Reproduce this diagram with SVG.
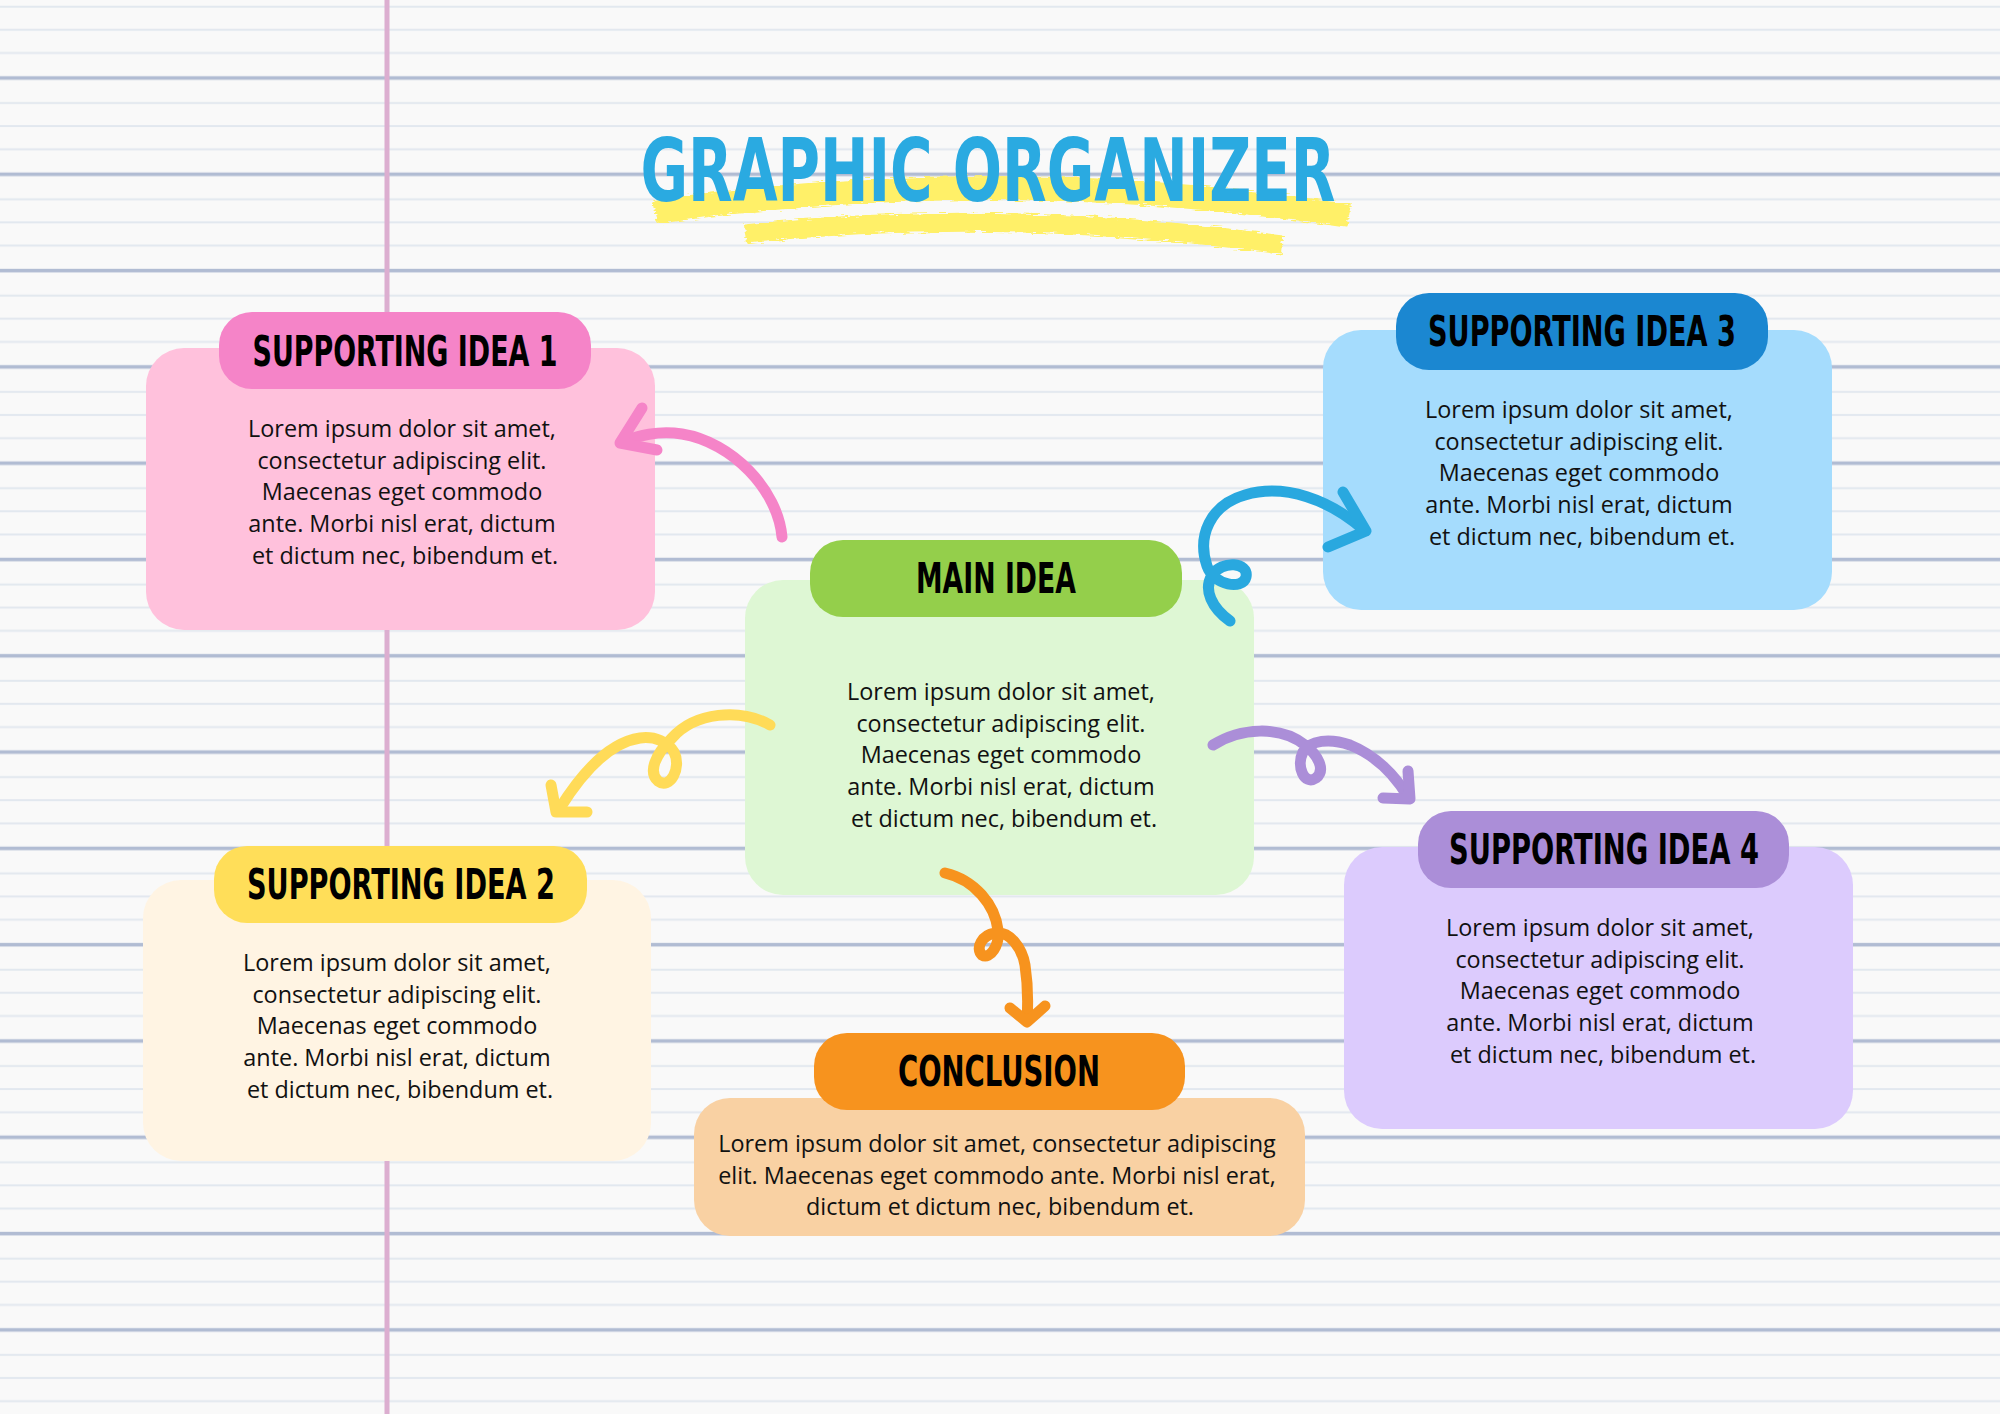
<svg xmlns="http://www.w3.org/2000/svg" width="2000" height="1414" viewBox="0 0 2000 1414">
  <defs>
    <!-- ruled notebook paper: one thick rule every fourth line -->
    <pattern id="ruled" patternUnits="userSpaceOnUse" x="0" y="17.8" width="2000" height="96.3">
      <rect x="0" y="11" width="2000" height="2" fill="#e2e8ef"/>
      <rect x="0" y="34.2" width="2000" height="2" fill="#e2e8ef"/>
      <rect x="0" y="58.4" width="2000" height="3.6" fill="#b1bcd3"/>
      <rect x="0" y="84.2" width="2000" height="2" fill="#e2e8ef"/>
    </pattern>
    <filter id="brush" x="-5%" y="-50%" width="110%" height="200%">
      <feTurbulence type="fractalNoise" baseFrequency="0.08 0.6" numOctaves="2" seed="4" result="n"/>
      <feDisplacementMap in="SourceGraphic" in2="n" scale="7" xChannelSelector="R" yChannelSelector="G"/>
    </filter>
    <style>
      .head { font-family: "Liberation Sans Narrow", "DejaVu Sans Condensed", "Liberation Sans", sans-serif; font-weight: 700; font-size: 42px; fill: #000; text-anchor: middle; }
      .body { font-family: "Open Sans", "Noto Sans", "Liberation Sans", sans-serif; font-size: 23.4px; fill: #111; text-anchor: middle; }
      .arrow { fill: none; stroke-width: 11; stroke-linecap: round; stroke-linejoin: round; }
    </style>
  </defs>

  <!-- paper -->
  <rect width="2000" height="1414" fill="#f9f9f9"/>
  <rect width="2000" height="1414" fill="url(#ruled)"/>
  <rect x="384.5" y="0" width="5" height="1414" fill="#dcaed0"/>

  <!-- title with yellow highlighter strokes -->
  <g id="title">
    <g filter="url(#brush)" fill="none" stroke="#fff067" stroke-linecap="butt">
      <path d="M 655 212 Q 1000 162 1349 216" stroke-width="24"/>
      <path d="M 745 234 Q 1000 206 1282 245" stroke-width="19"/>
    </g>
    <text x="988" y="201" font-family="'Liberation Sans Narrow','DejaVu Sans Condensed','Liberation Sans',sans-serif" font-weight="700" font-size="88" fill="#2aaae1" text-anchor="middle" textLength="695" lengthAdjust="spacingAndGlyphs">GRAPHIC ORGANIZER</text>
  </g>

  <!-- supporting idea 1 -->
  <g id="supporting-idea-1">
    <rect x="146" y="348" width="509" height="282" rx="38" fill="#ffc1dc"/>
    <rect x="219" y="312" width="372" height="77" rx="33" fill="#f584c8"/>
    <text class="head" x="405" y="366" textLength="305" lengthAdjust="spacingAndGlyphs">SUPPORTING IDEA 1</text>
    <text class="body" x="405" y="437">
      <tspan x="405" dy="0">Lorem ipsum dolor sit amet,</tspan>
      <tspan x="405" dy="31.7">consectetur adipiscing elit.</tspan>
      <tspan x="405" dy="31.7">Maecenas eget commodo</tspan>
      <tspan x="405" dy="31.7">ante. Morbi nisl erat, dictum</tspan>
      <tspan x="405" dy="31.7">et dictum nec, bibendum et.</tspan>
    </text>
  </g>

  <!-- supporting idea 3 -->
  <g id="supporting-idea-3">
    <rect x="1323" y="330" width="509" height="280" rx="38" fill="#a5dcfd"/>
    <rect x="1396" y="293" width="372" height="77" rx="33" fill="#1b87d1"/>
    <text class="head" x="1582" y="346" textLength="308" lengthAdjust="spacingAndGlyphs">SUPPORTING IDEA 3</text>
    <text class="body" x="1582" y="418">
      <tspan x="1582" dy="0">Lorem ipsum dolor sit amet,</tspan>
      <tspan x="1582" dy="31.7">consectetur adipiscing elit.</tspan>
      <tspan x="1582" dy="31.7">Maecenas eget commodo</tspan>
      <tspan x="1582" dy="31.7">ante. Morbi nisl erat, dictum</tspan>
      <tspan x="1582" dy="31.7">et dictum nec, bibendum et.</tspan>
    </text>
  </g>

  <!-- main idea -->
  <g id="main-idea">
    <rect x="745" y="580" width="509" height="315" rx="38" fill="#def7d4"/>
    <rect x="810" y="540" width="372" height="77" rx="33" fill="#94cf4b"/>
    <text class="head" x="996" y="593" textLength="160" lengthAdjust="spacingAndGlyphs">MAIN IDEA</text>
    <text class="body" x="1004" y="700">
      <tspan x="1004" dy="0">Lorem ipsum dolor sit amet,</tspan>
      <tspan x="1004" dy="31.7">consectetur adipiscing elit.</tspan>
      <tspan x="1004" dy="31.7">Maecenas eget commodo</tspan>
      <tspan x="1004" dy="31.7">ante. Morbi nisl erat, dictum</tspan>
      <tspan x="1004" dy="31.7">et dictum nec, bibendum et.</tspan>
    </text>
  </g>

  <!-- supporting idea 2 -->
  <g id="supporting-idea-2">
    <rect x="143" y="880" width="508" height="281" rx="38" fill="#fff4e3"/>
    <rect x="214" y="846" width="373" height="77" rx="33" fill="#ffde59"/>
    <text class="head" x="401" y="899" textLength="308" lengthAdjust="spacingAndGlyphs">SUPPORTING IDEA 2</text>
    <text class="body" x="400" y="971">
      <tspan x="400" dy="0">Lorem ipsum dolor sit amet,</tspan>
      <tspan x="400" dy="31.7">consectetur adipiscing elit.</tspan>
      <tspan x="400" dy="31.7">Maecenas eget commodo</tspan>
      <tspan x="400" dy="31.7">ante. Morbi nisl erat, dictum</tspan>
      <tspan x="400" dy="31.7">et dictum nec, bibendum et.</tspan>
    </text>
  </g>

  <!-- supporting idea 4 -->
  <g id="supporting-idea-4">
    <rect x="1344" y="847" width="509" height="282" rx="38" fill="#dccbfd"/>
    <rect x="1418" y="811" width="371" height="77" rx="33" fill="#ab8ed8"/>
    <text class="head" x="1604" y="864" textLength="310" lengthAdjust="spacingAndGlyphs">SUPPORTING IDEA 4</text>
    <text class="body" x="1603" y="936">
      <tspan x="1603" dy="0">Lorem ipsum dolor sit amet,</tspan>
      <tspan x="1603" dy="31.7">consectetur adipiscing elit.</tspan>
      <tspan x="1603" dy="31.7">Maecenas eget commodo</tspan>
      <tspan x="1603" dy="31.7">ante. Morbi nisl erat, dictum</tspan>
      <tspan x="1603" dy="31.7">et dictum nec, bibendum et.</tspan>
    </text>
  </g>

  <!-- conclusion -->
  <g id="conclusion">
    <rect x="694" y="1098" width="611" height="138" rx="36" fill="#f9d1a3"/>
    <rect x="814" y="1033" width="371" height="77" rx="33" fill="#f7931e"/>
    <text class="head" x="999" y="1086" textLength="202" lengthAdjust="spacingAndGlyphs">CONCLUSION</text>
    <text class="body" x="1000" y="1152">
      <tspan x="1000" dy="0">Lorem ipsum dolor sit amet, consectetur adipiscing</tspan>
      <tspan x="1000" dy="31.7">elit. Maecenas eget commodo ante. Morbi nisl erat,</tspan>
      <tspan x="1000" dy="31.7">dictum et dictum nec, bibendum et.</tspan>
    </text>
  </g>

  <!-- hand-drawn connectors -->
  <g id="connectors">
    <g stroke="#f584c8" class="arrow">
      <path class="arrow" d="M 782 537 C 778 490 732 442 682 434 C 658 430 638 436 622 442"/>
      <path class="arrow" d="M 642 408 L 620 443 L 657 450"/>
    </g>
    <g stroke="#29a8df" class="arrow">
      <path class="arrow" d="M 1230 621 C 1212 608 1203 590 1212 575 C 1222 560 1249 562 1246 577 C 1243 590 1214 586 1207 566 C 1197 536 1210 505 1245 495 C 1285 483 1330 500 1364 530"/>
      <path class="arrow" d="M 1343 492 L 1366 531 L 1328 547"/>
    </g>
    <g stroke="#ffdb58" class="arrow">
      <path class="arrow" d="M 770 725 C 740 708 695 712 672 738 C 655 755 648 772 658 781 C 670 790 682 768 674 752 C 668 742 655 736 640 738 C 612 742 585 768 560 808"/>
      <path class="arrow" d="M 551 785 L 556 812 L 587 812"/>
    </g>
    <g stroke="#ab8ed8" class="arrow">
      <path class="arrow" d="M 1213 745 C 1240 728 1280 725 1305 745 C 1318 755 1326 770 1316 778 C 1304 786 1296 766 1303 752 C 1310 740 1330 738 1350 745 C 1375 755 1395 775 1408 797"/>
      <path class="arrow" d="M 1408 771 L 1410 799 L 1383 798"/>
    </g>
    <g stroke="#f7931e" class="arrow">
      <path class="arrow" d="M 945 873 C 975 880 995 905 998 930 C 1000 945 990 960 982 955 C 975 948 982 935 995 933 C 1010 931 1022 948 1025 965 C 1028 985 1028 1005 1027 1020"/>
      <path class="arrow" d="M 1010 1008 L 1027 1022 L 1045 1006"/>
    </g>
  </g>
</svg>
